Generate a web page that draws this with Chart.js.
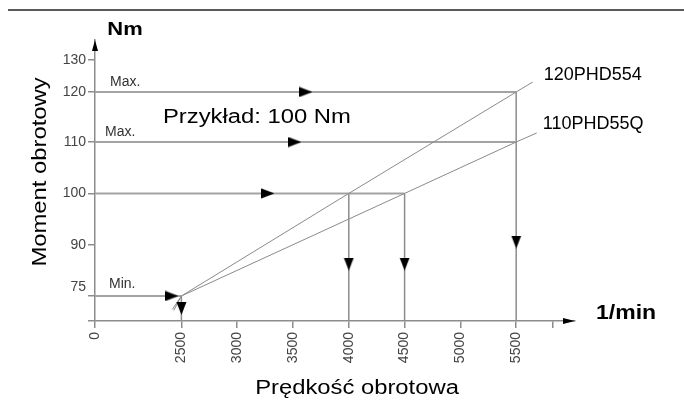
<!DOCTYPE html>
<html>
<head>
<meta charset="utf-8">
<script src="https://cdn.jsdelivr.net/npm/chart.js@4.4.1/dist/chart.umd.min.js"></script>
<style>
  body { margin: 0; background: #fff; }
  canvas { display: block; }
</style>
</head>
<body>
<canvas id="chart" width="684" height="412"></canvas>
<script>
// axis ticks (speed in 1/min, torque in Nm)
const speedTicks = [0, 2500, 3000, 3500, 4000, 4500, 5000, 5500, 5827];
const speedTickLabels = ['0', '2500', '3000', '3500', '4000', '4500', '5000', '5500', ''];
const torqueTicks = [67.5, 75, 90, 100, 110, 120, 130];
const torqueTickLabels = ['', ['75', ''], '90', '100', '110', '120', '130'];

// motor characteristics
const speed120 = [2280, 2500, 4000, 5500, 5648];
const torque120 = [70.7, 75, 100, 120, 123.1];
const speed110 = [2236, 2500, 4500, 5500, 5684];
const torque110 = [70.95, 75, 100, 110, 111.8];

// reading guides: horizontal lines from the axis, vertical drops to the axis
const hLineTorque = [120, 110, 100, 75];
const hLineEnd = [5500, 5500, 4500, 2500];
const dropSpeed = [5500, 4000, 4500, 2500];
const dropTop = [120, 100, 100, 75];
const axisFloor = 67.5;
const rightArrowSpeed = [3616, 3517, 3275, 2227];
const downArrowTorque = [90.6, 84.4, 84.4, 71.25];

const FONT = "'Liberation Sans', Arial, Helvetica, sans-serif";

// linear scale with breaks, mapped piecewise through [value, decimal] stops
class BrokenScale extends Chart.LinearScale {
  static id = 'broken';
  static defaults = Chart.LinearScale.defaults;

  buildTicks() {
    return this.options.tickValues.map(v => ({ value: v }));
  }
  toDecimal(v) {
    const s = this.options.stops;
    let i = 1;
    while (i < s.length - 1 && v > s[i][0]) i++;
    const [v0, d0] = s[i - 1], [v1, d1] = s[i];
    return d0 + (v - v0) / (v1 - v0) * (d1 - d0);
  }
  getPixelForValue(v) {
    return this.getPixelForDecimal(this.toDecimal(v));
  }
  getValueForPixel(p) {
    const d = this.getDecimalForPixel(p);
    const s = this.options.stops;
    let i = 1;
    while (i < s.length - 1 && d > s[i][1]) i++;
    const [v0, d0] = s[i - 1], [v1, d1] = s[i];
    return v0 + (d - d0) / (d1 - d0) * (v1 - v0);
  }
}
Chart.register(BrokenScale);

function arrowImage(dir) {
  const c = document.createElement('canvas');
  if (dir === 'right') { c.width = 13; c.height = 11; } else { c.width = 11; c.height = 13; }
  const g = c.getContext('2d');
  g.fillStyle = '#000';
  g.beginPath();
  if (dir === 'right') {
    g.moveTo(0, 0.5); g.lineTo(13, 5.5); g.lineTo(0, 10.5);
  } else {
    g.moveTo(0.5, 0); g.lineTo(10.5, 0); g.lineTo(5.5, 13);
  }
  g.closePath();
  g.fill();
  return c;
}
const rightArrow = arrowImage('right');
const downArrow = arrowImage('down');

const zip = (xs, ys) => xs.map((x, i) => ({ x, y: ys[i] }));

const datasets = [];
hLineTorque.forEach((t, i) => {
  datasets.push({
    data: zip([0, hLineEnd[i]], [t, t]), order: 2,
    showLine: true, borderColor: '#a3a3a3', borderWidth: 2, pointRadius: 0
  });
});
dropSpeed.forEach((s, i) => {
  datasets.push({
    data: zip([s, s], [dropTop[i], axisFloor]), order: 2,
    showLine: true, borderColor: '#8c8c8c', borderWidth: 1.5, pointRadius: 0
  });
});
datasets.push({
  label: '120PHD554', data: zip(speed120, torque120), order: 1,
  showLine: true, borderColor: '#8a8a8a', borderWidth: 1, pointRadius: 0
});
datasets.push({
  label: '110PHD55Q', data: zip(speed110, torque110), order: 1,
  showLine: true, borderColor: '#8a8a8a', borderWidth: 1, pointRadius: 0
});
datasets.push({
  data: zip(rightArrowSpeed, hLineTorque), order: 0,
  showLine: false, pointStyle: rightArrow, pointRadius: 7
});
datasets.push({
  data: zip(dropSpeed, downArrowTorque), order: 0,
  showLine: false, pointStyle: downArrow, pointRadius: 7
});

function stretchText(ctx, text, x, y, sx, font, align, color) {
  ctx.save();
  ctx.font = font;
  ctx.fillStyle = color || '#000';
  ctx.textAlign = align || 'left';
  ctx.textBaseline = 'alphabetic';
  ctx.translate(x, y);
  ctx.scale(sx, 1);
  ctx.fillText(text, 0, 0);
  ctx.restore();
}

const decorations = {
  id: 'decorations',
  beforeDraw(chart) {
    const ctx = chart.ctx;
    ctx.save();
    ctx.strokeStyle = '#222';
    ctx.lineWidth = 1.6;
    ctx.beginPath();
    ctx.moveTo(8, 10);
    ctx.lineTo(684, 10);
    ctx.stroke();
    ctx.restore();
  },
  afterDraw(chart) {
    const ctx = chart.ctx;
    const { left, right, top, bottom } = chart.chartArea;
    const xs = chart.scales.x, ys = chart.scales.y;

    // axis arrowheads
    ctx.save();
    ctx.fillStyle = '#000';
    ctx.beginPath();
    ctx.moveTo(left, top);
    ctx.lineTo(left - 3, top + 11);
    ctx.lineTo(left + 3, top + 11);
    ctx.closePath();
    ctx.fill();
    ctx.beginPath();
    ctx.moveTo(right, bottom);
    ctx.lineTo(right - 12, bottom - 3);
    ctx.lineTo(right - 12, bottom + 3);
    ctx.closePath();
    ctx.fill();
    ctx.restore();

    // axis titles
    stretchText(ctx, 'Nm', 125, 35, 1.22, `bold 18px ${FONT}`, 'center');
    stretchText(ctx, '1/min', 596, 319, 1.15, `bold 20px ${FONT}`, 'left');
    stretchText(ctx, 'Prędkość obrotowa', 357, 394, 1.19, `20px ${FONT}`, 'center');
    ctx.save();
    ctx.translate(46, 172);
    ctx.rotate(-Math.PI / 2);
    stretchText(ctx, 'Moment obrotowy', 0, 0, 1.19, `20px ${FONT}`, 'center');
    ctx.restore();

    stretchText(ctx, 'Przykład: 100 Nm', 163, 123, 1.19, `20px ${FONT}`, 'left');

    // guide notes
    const note = `14px ${FONT}`;
    stretchText(ctx, 'Max.', left + 15, ys.getPixelForValue(120) - 6, 1, note, 'left', '#333');
    stretchText(ctx, 'Max.', left + 10, ys.getPixelForValue(110) - 6, 1, note, 'left', '#333');
    stretchText(ctx, 'Min.', left + 14, ys.getPixelForValue(75) - 8, 1, note, 'left', '#333');

    // motor labels at line ends
    const n = speed120.length - 1;
    stretchText(ctx, '120PHD554', xs.getPixelForValue(speed120[n]) + 11,
      ys.getPixelForValue(torque120[n]) - 2, 1, `18px ${FONT}`, 'left');
    const m = speed110.length - 1;
    stretchText(ctx, '110PHD55Q', xs.getPixelForValue(speed110[m]) + 6,
      ys.getPixelForValue(torque110[m]) - 4, 1, `18px ${FONT}`, 'left');
  }
};

new Chart(document.getElementById('chart'), {
  type: 'scatter',
  data: { datasets },
  plugins: [decorations],
  options: {
    responsive: false,
    animation: false,
    devicePixelRatio: 1,
    layout: { padding: { top: 40, right: 109, left: 0, bottom: 0 } },
    plugins: { legend: { display: false }, tooltip: { enabled: false } },
    events: [],
    scales: {
      x: {
        type: 'broken',
        tickValues: speedTicks,
        stops: [[0, 0], [2500, 0.18], [6027, 1]],
        afterFit: s => { s.height = 91; },
        border: { display: true, color: '#8c8c8c', width: 1.5 },
        grid: { display: true, drawOnChartArea: false, drawTicks: true, tickLength: 7, color: '#8c8c8c', lineWidth: 1.5 },
        ticks: {
          autoSkip: false, minRotation: 90, maxRotation: 90, padding: 4,
          color: '#444', font: { family: FONT, size: 14 },
          callback: (v, i) => speedTickLabels[i]
        }
      },
      y: {
        type: 'broken',
        tickValues: torqueTicks,
        stops: [[67.5, 0], [75, 0.089], [90, 0.27], [100, 0.454], [110, 0.637], [120, 0.815], [130, 0.929], [136, 1]],
        afterFit: s => { s.width = 95; },
        border: { display: true, color: '#8c8c8c', width: 1.5 },
        grid: { display: true, drawOnChartArea: false, drawTicks: true, tickLength: 7, color: '#8c8c8c', lineWidth: 1.5 },
        ticks: {
          autoSkip: false, padding: 2,
          color: '#444', font: { family: FONT, size: 14 },
          callback: (v, i) => torqueTickLabels[i]
        }
      }
    }
  }
});
</script>
</body>
</html>
